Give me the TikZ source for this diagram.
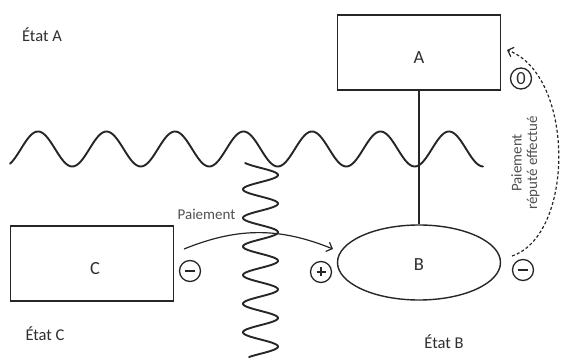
\documentclass[tikz,border=0pt]{standalone}
\usepackage{fontspec}
\setmainfont{Carlito}
\usetikzlibrary{shapes.geometric,arrows.meta}
\definecolor{ink}{HTML}{262626}
\definecolor{txt}{HTML}{2E2E2E}
\definecolor{ltxt}{HTML}{505050}
\begin{document}
\begin{tikzpicture}[x=1pt,y=-1pt,
 box/.style={draw=ink,line width=1.4pt,minimum width=163pt,minimum height=75pt,inner sep=0pt},
 oval/.style={ellipse,draw=ink,line width=1.4pt,minimum width=163pt,minimum height=75pt,inner sep=0pt},
 lab/.style={text=txt,font=\fontsize{16.5}{18}\selectfont,inner sep=0pt},
 big/.style={text=txt,font=\fontsize{18.5}{20}\selectfont,inner sep=0pt},
 small/.style={text=ltxt,font=\fontsize{15}{15.5}\selectfont,inner sep=0pt},
 sign/.style={circle,draw=ink,line width=1.3pt,minimum size=21pt,inner sep=0pt},
 minus/.style={sign,path picture={\draw[ink,line width=1.4pt] ([xshift=-5pt]path picture bounding box.center) -- ([xshift=5pt]path picture bounding box.center);}},
 plus/.style={sign,path picture={\draw[ink,line width=1.4pt] ([xshift=-4.5pt]path picture bounding box.center) -- ([xshift=4.5pt]path picture bounding box.center) ([yshift=-4.5pt]path picture bounding box.center) -- ([yshift=4.5pt]path picture bounding box.center);}},
 wave/.style={draw=ink,line width=1.9pt,line join=round,line cap=round},
 conn/.style={draw=ink,line width=1.2pt},
 tip/.style={-{Straight Barb[length=5pt,width=10pt]}},
]
\useasboundingbox (0,0) rectangle (566,358);
% waves
\draw[wave] plot[domain=10:483,samples=300,smooth] (\x,{149-17.5*cos(5.2555*(\x-38))});
\draw[wave] plot[domain=163:357,samples=300,smooth] ({260.5+17.5*cos(12.587*(\x-175))},\x);
% boxes
\node[box] (A) at (419,52.5) {};
\node[big] (Alab) at (419,58) {A};
\node[box] (C) at (92,263.5) {};
\node[big] (Clab) at (95,268.5) {C};
\node[oval] (B) at (419,262.5) {};
\node[big] (Blab) at (419,265) {B};
\draw[conn] (A.south) -- (B.north);
% state labels
\node[lab] (EA) at (42,35) {État A};
\node[lab] (EC) at (45,334) {État C};
\node[lab] (EB) at (444,342) {État B};
% signs
\node[minus] (cm) at (190,271) {};
\node[plus] (bp) at (321,272) {};
\node[minus] (bm) at (523,270) {};
\node[sign,big,minimum size=21pt] (az) at (521,78.5) {0};
% payment arrow
\coordinate (p1) at (184,249);
\coordinate (p2) at (333,249);
\draw[conn,tip] (p1) to[bend left=22] (p2);
\node[small] (pay) at (206.5,214) {Paiement};
% dashed arrow
\coordinate (d1) at (512,256);
\coordinate (d2) at (507,50);
\draw[conn,tip,dash pattern=on 3pt off 2.2pt] (d1) .. controls (575,235) and (575,75) .. (d2);
\node[small,rotate=90,align=center] (pay2) at (525.5,163) {Paiement\\réputé effectué};
\end{tikzpicture}
\end{document}
